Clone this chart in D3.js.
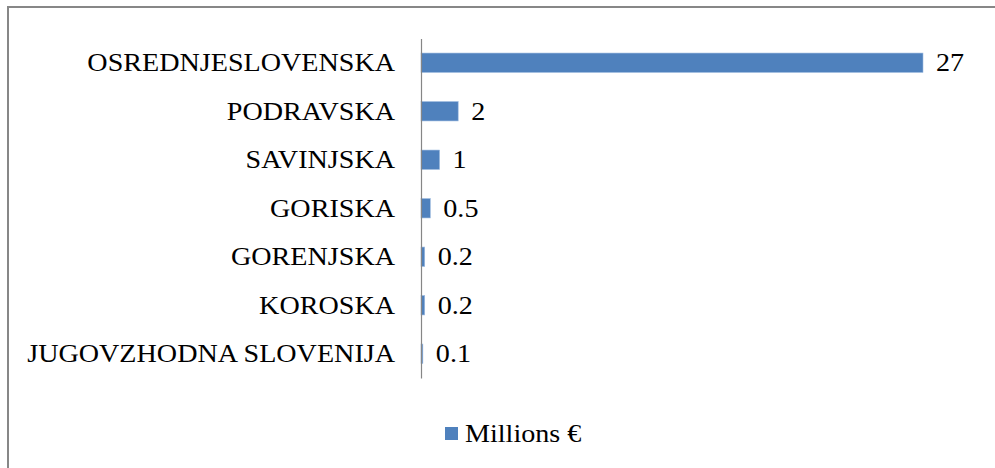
<!DOCTYPE html>
<html>
<head>
<meta charset="utf-8">
<script src="https://cdn.jsdelivr.net/npm/d3@7"></script>
<style>
  html, body { margin: 0; padding: 0; background: #fff; }
  svg { display: block; }
  text { font-family: "Liberation Serif", "DejaVu Serif", serif; }
</style>
</head>
<body>
<svg id="chart" width="995" height="468"></svg>
<script>
const categories = ["OSREDNJESLOVENSKA", "PODRAVSKA", "SAVINJSKA", "GORISKA", "GORENJSKA", "KOROSKA", "JUGOVZHODNA SLOVENIJA"];
const values = [27, 2, 1, 0.5, 0.2, 0.2, 0.1];
const valueLabels = ["27", "2", "1", "0.5", "0.2", "0.2", "0.1"];
const seriesName = "Millions \u20AC";

const svg = d3.select("#chart");
const fontSize = 25;
const stretch = 1.125;
const color = "#4F81BD";

// outer border (chart area frame)
svg.append("rect")
  .attr("x", 8).attr("y", 7)
  .attr("width", 1000).attr("height", 470)
  .attr("fill", "none")
  .attr("stroke", "#878787")
  .attr("stroke-width", 2);

const x = d3.scaleLinear().domain([0, 27]).range([421, 923]);
const y = d3.scaleBand().domain(categories).range([38.5, 378])
  .paddingInner(0.6).paddingOuter(0.3);

// bars
svg.append("g").selectAll("rect")
  .data(categories)
  .join("rect")
  .attr("x", x(0))
  .attr("y", d => y(d))
  .attr("width", (d, i) => x(values[i]) - x(0))
  .attr("height", y.bandwidth())
  .attr("fill", color)
  .attr("stroke", "#9dbbe0")
  .attr("stroke-width", 0.6);

// category axis
const axis = d3.axisLeft(y).tickSize(0).tickPadding(26);
const gAxis = svg.append("g").attr("transform", `translate(${x(0)},0)`).call(axis);
gAxis.attr("font-family", null).attr("font-size", null);
gAxis.select(".domain").attr("stroke", "#868686").attr("stroke-width", 1.2);
gAxis.selectAll(".tick text")
  .attr("font-size", fontSize)
  .attr("fill", "#000")
  .attr("x", -26 / stretch)
  .attr("dy", "0.33em")
  .attr("transform", `scale(${stretch},1)`);

// value labels
svg.append("g").selectAll("text")
  .data(categories)
  .join("text")
  .attr("transform", (d, i) => `translate(${x(values[i]) + 13},${y(d) + y.bandwidth() / 2}) scale(${stretch},1)`)
  .attr("dy", "0.33em")
  .attr("font-size", fontSize)
  .attr("fill", "#000")
  .text((d, i) => valueLabels[i]);

// legend
const legend = svg.append("g").attr("transform", "translate(445,427)");
legend.append("rect").attr("width", 13).attr("height", 13).attr("fill", color);
legend.append("text")
  .attr("transform", `translate(20,6.5) scale(${stretch},1)`)
  .attr("dy", "0.35em")
  .attr("font-size", fontSize)
  .attr("fill", "#000")
  .text(seriesName);
</script>
</body>
</html>
